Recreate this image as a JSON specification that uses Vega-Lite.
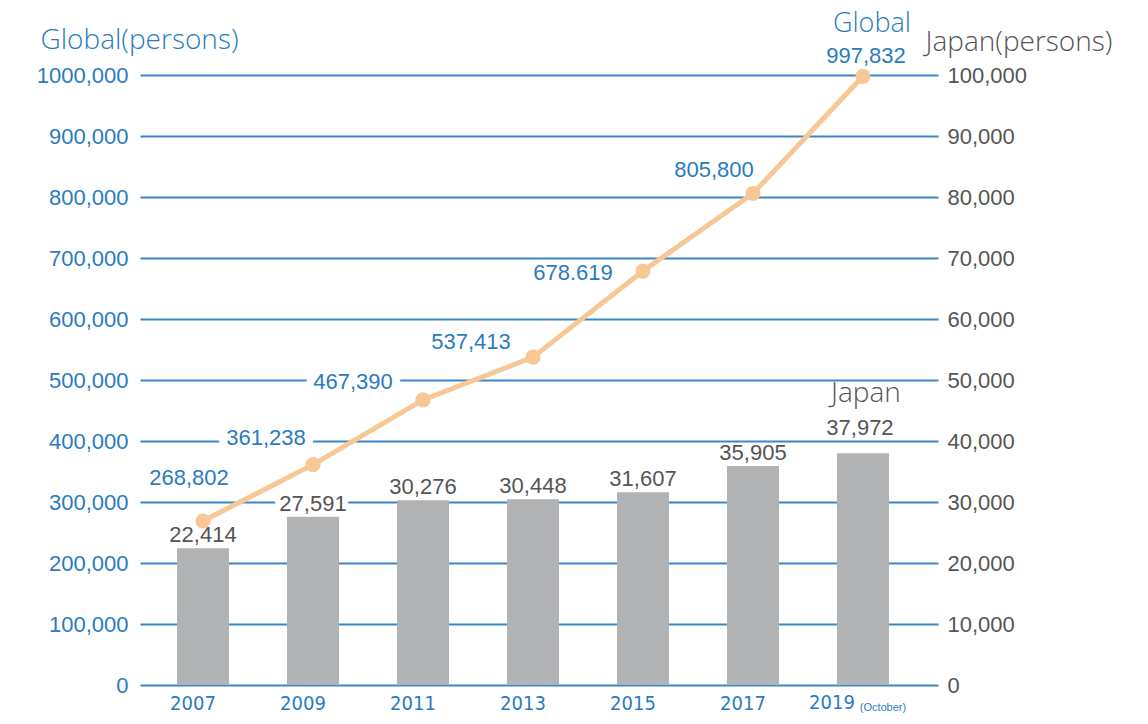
{
  "$schema": "https://vega.github.io/schema/vega-lite/v6.json",
  "autosize": {"type": "none"},
  "padding": {"left": 140, "top": 75, "right": 210, "bottom": 39},
  "width": 798,
  "height": 610,
  "background": "white",
  "config": {
    "view": {"stroke": null},
    "font": "Liberation Sans"
  },
  "data": {
    "values": [
      {"year": "2007", "global": 268802, "japan": 22414, "globalLabel": "268,802", "japanLabel": "22,414"},
      {"year": "2009", "global": 361238, "japan": 27591, "globalLabel": "361,238", "japanLabel": "27,591"},
      {"year": "2011", "global": 467390, "japan": 30276, "globalLabel": "467,390", "japanLabel": "30,276"},
      {"year": "2013", "global": 537413, "japan": 30448, "globalLabel": "537,413", "japanLabel": "30,448"},
      {"year": "2015", "global": 678619, "japan": 31607, "globalLabel": "678.619", "japanLabel": "31,607"},
      {"year": "2017", "global": 805800, "japan": 35905, "globalLabel": "805,800", "japanLabel": "35,905"},
      {"year": "2019", "global": 997832, "japan": 37972, "globalLabel": "997,832", "japanLabel": "37,972", "note": "(October)", "gName": "Global", "jName": "Japan"}
    ]
  },
  "encoding": {
    "x": {
      "field": "year",
      "type": "ordinal",
      "scale": {"paddingInner": 0.527, "paddingOuter": 0.391, "align": 0.43},
      "axis": {
        "title": null,
        "orient": "bottom",
        "domain": false,
        "ticks": false,
        "grid": false,
        "labelAngle": 0,
        "labelFont": "DejaVu Sans Condensed",
        "labelFontSize": 20,
        "labelColor": "#2a7bbf",
        "labelBaseline": "middle",
        "labelPadding": 18,
        "labelOffset": -10,
        "labelExpr": "datum.value == '2019' ? '' : datum.value"
      }
    }
  },
  "layer": [
    {
      "encoding": {
        "y": {
          "field": "japan",
          "type": "quantitative",
          "scale": {"domain": [0, 100000], "nice": false},
          "axis": {
            "orient": "right",
            "grid": false,
            "domain": false,
            "ticks": false,
            "values": [0, 10000, 20000, 30000, 40000, 50000, 60000, 70000, 80000, 90000, 100000],
            "labelExpr": "format(datum.value, ',')",
            "labelFont": "Liberation Sans",
            "labelFontSize": 22,
            "labelColor": "#555555",
            "labelPadding": 9,
            "title": "Japan(persons)",
            "titleAngle": 0,
            "titleAlign": "left",
            "titleBaseline": "alphabetic",
            "titleX": -13,
            "titleY": -25,
            "titleFont": "Open Sans",
            "titleFontSize": 28,
            "titleFontWeight": 300,
            "titleColor": "#555555"
          }
        }
      },
      "layer": [
        {
          "transform": [{"filter": "datum.year != '2019' && datum.year != '2017'"}],
          "mark": {"type": "text", "font": "Liberation Sans", "fontSize": 22, "align": "center", "baseline": "alphabetic", "color": "white", "stroke": "white", "strokeWidth": 12, "strokeJoin": "round", "dy": -6},
          "encoding": {"text": {"field": "japanLabel"}}
        },
        {"mark": {"type": "bar", "color": "#b1b2b4"}},
        {
          "transform": [{"filter": "datum.year != '2019'"}],
          "mark": {"type": "text", "font": "Liberation Sans", "fontSize": 22, "align": "center", "baseline": "alphabetic", "color": "#555555", "dy": -6},
          "encoding": {"text": {"field": "japanLabel"}}
        },
        {
          "transform": [{"filter": "datum.year == '2019'"}],
          "mark": {"type": "text", "font": "Liberation Sans", "fontSize": 22, "align": "center", "baseline": "alphabetic", "color": "#555555", "dy": -18, "dx": -3},
          "encoding": {"text": {"field": "japanLabel"}}
        },
        {
          "transform": [{"filter": "datum.year == '2019'"}],
          "mark": {"type": "text", "font": "Open Sans", "fontSize": 28, "fontWeight": 300, "align": "center", "baseline": "alphabetic", "color": "#555555", "dy": -51, "dx": 3},
          "encoding": {"text": {"field": "jName"}}
        }
      ]
    },
    {
      "encoding": {
        "y": {
          "field": "global",
          "type": "quantitative",
          "scale": {"domain": [0, 1000000], "nice": false},
          "axis": {
            "orient": "left",
            "grid": true,
            "gridColor": "#3a87c7",
            "gridWidth": 2,
            "gridOpacity": 1,
            "domain": false,
            "ticks": false,
            "values": [0, 100000, 200000, 300000, 400000, 500000, 600000, 700000, 800000, 900000, 1000000],
            "labelExpr": "datum.value == 1000000 ? '1000,000' : format(datum.value, ',')",
            "labelFont": "Liberation Sans",
            "labelFontSize": 22,
            "labelColor": "#2a7bbf",
            "labelPadding": 12,
            "title": "Global(persons)",
            "titleAngle": 0,
            "titleAlign": "left",
            "titleBaseline": "alphabetic",
            "titleX": -100,
            "titleY": -27,
            "titleFont": "Open Sans",
            "titleFontSize": 28,
            "titleFontWeight": 300,
            "titleColor": "#2a7bbf"
          }
        }
      },
      "layer": [
        {"transform": [{"filter": "datum.year == '2007'"}], "mark": {"type": "text", "font": "Liberation Sans", "fontSize": 22, "align": "center", "baseline": "middle", "color": "white", "stroke": "white", "strokeWidth": 10, "strokeJoin": "round", "dx": -14, "dy": -43}, "encoding": {"text": {"field": "globalLabel"}}},
        {"transform": [{"filter": "datum.year == '2009'"}], "mark": {"type": "text", "font": "Liberation Sans", "fontSize": 22, "align": "center", "baseline": "middle", "color": "white", "stroke": "white", "strokeWidth": 16, "strokeJoin": "round", "dx": -47, "dy": -27}, "encoding": {"text": {"field": "globalLabel"}}},
        {"transform": [{"filter": "datum.year == '2011'"}], "mark": {"type": "text", "font": "Liberation Sans", "fontSize": 22, "align": "center", "baseline": "middle", "color": "white", "stroke": "white", "strokeWidth": 16, "strokeJoin": "round", "dx": -70, "dy": -18}, "encoding": {"text": {"field": "globalLabel"}}},
        {"transform": [{"filter": "datum.year == '2013'"}], "mark": {"type": "text", "font": "Liberation Sans", "fontSize": 22, "align": "center", "baseline": "middle", "color": "white", "stroke": "white", "strokeWidth": 9, "strokeJoin": "round", "dx": -62, "dy": -15}, "encoding": {"text": {"field": "globalLabel"}}},
        {"transform": [{"filter": "datum.year == '2015'"}], "mark": {"type": "text", "font": "Liberation Sans", "fontSize": 22, "align": "center", "baseline": "middle", "color": "white", "stroke": "white", "strokeWidth": 6, "strokeJoin": "round", "dx": -70, "dy": 2}, "encoding": {"text": {"field": "globalLabel"}}},
        {"transform": [{"filter": "datum.year == '2017'"}], "mark": {"type": "text", "font": "Liberation Sans", "fontSize": 22, "align": "center", "baseline": "middle", "color": "white", "stroke": "white", "strokeWidth": 9, "strokeJoin": "round", "dx": -39, "dy": -23}, "encoding": {"text": {"field": "globalLabel"}}},
        {"transform": [{"filter": "datum.year == '2019'"}], "mark": {"type": "text", "font": "Liberation Sans", "fontSize": 22, "align": "center", "baseline": "middle", "color": "white", "stroke": "white", "strokeWidth": 6, "strokeJoin": "round", "dx": 3, "dy": -20}, "encoding": {"text": {"field": "globalLabel"}}},
        {"mark": {"type": "line", "color": "#f7c795", "strokeWidth": 5}},
        {"mark": {"type": "point", "filled": true, "color": "#f7c795", "opacity": 1, "size": 230}},
        {"transform": [{"filter": "datum.year == '2007'"}], "mark": {"type": "text", "font": "Liberation Sans", "fontSize": 22, "align": "center", "baseline": "middle", "color": "#2a7bbf", "dx": -14, "dy": -43}, "encoding": {"text": {"field": "globalLabel"}}},
        {"transform": [{"filter": "datum.year == '2009'"}], "mark": {"type": "text", "font": "Liberation Sans", "fontSize": 22, "align": "center", "baseline": "middle", "color": "#2a7bbf", "dx": -47, "dy": -27}, "encoding": {"text": {"field": "globalLabel"}}},
        {"transform": [{"filter": "datum.year == '2011'"}], "mark": {"type": "text", "font": "Liberation Sans", "fontSize": 22, "align": "center", "baseline": "middle", "color": "#2a7bbf", "dx": -70, "dy": -18}, "encoding": {"text": {"field": "globalLabel"}}},
        {"transform": [{"filter": "datum.year == '2013'"}], "mark": {"type": "text", "font": "Liberation Sans", "fontSize": 22, "align": "center", "baseline": "middle", "color": "#2a7bbf", "dx": -62, "dy": -15}, "encoding": {"text": {"field": "globalLabel"}}},
        {"transform": [{"filter": "datum.year == '2015'"}], "mark": {"type": "text", "font": "Liberation Sans", "fontSize": 22, "align": "center", "baseline": "middle", "color": "#2a7bbf", "dx": -70, "dy": 2}, "encoding": {"text": {"field": "globalLabel"}}},
        {"transform": [{"filter": "datum.year == '2017'"}], "mark": {"type": "text", "font": "Liberation Sans", "fontSize": 22, "align": "center", "baseline": "middle", "color": "#2a7bbf", "dx": -39, "dy": -23}, "encoding": {"text": {"field": "globalLabel"}}},
        {"transform": [{"filter": "datum.year == '2019'"}], "mark": {"type": "text", "font": "Liberation Sans", "fontSize": 22, "align": "center", "baseline": "middle", "color": "#2a7bbf", "dx": 3, "dy": -20}, "encoding": {"text": {"field": "globalLabel"}}},
        {"transform": [{"filter": "datum.year == '2019'"}], "mark": {"type": "text", "font": "Open Sans", "fontSize": 27, "fontWeight": 300, "align": "center", "baseline": "middle", "color": "#2a7bbf", "dx": 9, "dy": -52}, "encoding": {"text": {"field": "gName"}}},
        {"transform": [{"filter": "datum.year == '2019'"}], "mark": {"type": "text", "font": "DejaVu Sans Condensed", "fontSize": 20, "align": "center", "baseline": "middle", "color": "#2a7bbf", "dx": -31, "dy": 18}, "encoding": {"y": {"datum": 0, "type": "quantitative"}, "text": {"field": "year"}}},
        {"transform": [{"filter": "datum.year == '2019'"}], "mark": {"type": "text", "font": "Liberation Sans", "fontSize": 11, "align": "center", "baseline": "middle", "color": "#2a7bbf", "dx": 20, "dy": 23}, "encoding": {"y": {"datum": 0, "type": "quantitative"}, "text": {"field": "note"}}}
      ]
    }
  ],
  "resolve": {"scale": {"y": "independent"}}
}
